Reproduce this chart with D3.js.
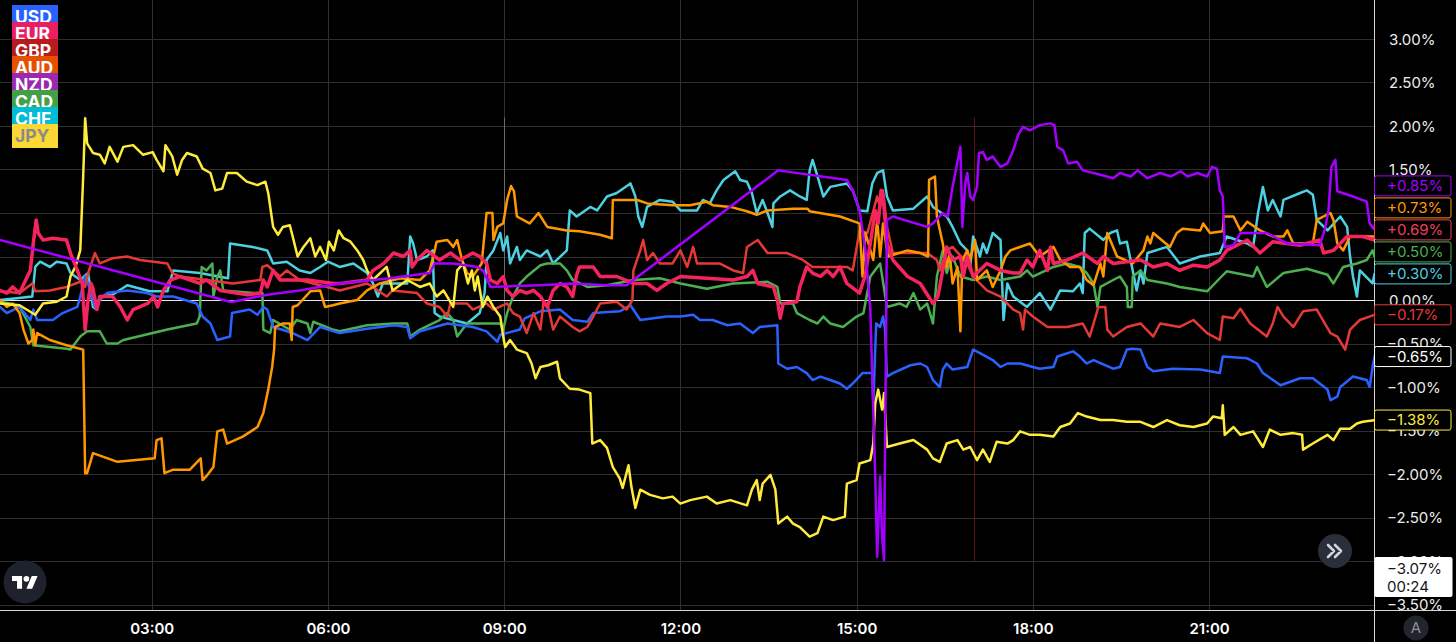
<!DOCTYPE html>
<html><head><meta charset="utf-8">
<script src="https://cdn.jsdelivr.net/npm/d3@7"></script>
<style>html,body{margin:0;padding:0;background:#000;overflow:hidden}svg{display:block}</style>
</head><body>
<svg id="chart" width="1456" height="642"></svg>
<script>
// ---- DATA (time in minutes since 00:00, value in %) ----
const categories = ["USD","EUR","GBP","AUD","NZD","CAD","CHF","JPY"];
const xTickValues = [180,360,540,720,900,1080,1260];
const yTickValues = [3,2.5,2,1.5,1,0.5,0,-0.5,-1,-1.5,-2,-2.5,-3,-3.5];
const sessionMarks = [540,1020];
const cursorValue = -3.07;
const cursorTime = "00:24";

const usd = [[25,-0.08],[32,-0.15],[45,-0.08],[56,-0.23],[59,-0.11],[63,-0.23],[79,-0.23],[89,-0.15],[104,-0.08],[107,0.04],[112,0.27],[115,0.19],[122,-0.08],[127,0.00],[134,0.08],[155,0.11],[175,0.08],[185,0.04],[202,0.04],[226,-0.04],[232,-0.19],[240,-0.27],[247,-0.46],[260,-0.42],[262,-0.15],[280,-0.11],[288,-0.17],[294,-0.08],[298,-0.11],[304,-0.31],[324,-0.38],[339,-0.46],[352,-0.31],[366,-0.36],[372,-0.38],[400,-0.33],[427,-0.29],[441,-0.31],[444,-0.44],[454,-0.36],[482,-0.27],[508,-0.31],[522,-0.36],[533,-0.48],[536,-0.40],[556,-0.34],[561,-0.21],[577,-0.13],[597,-0.11],[610,-0.23],[625,-0.25],[631,-0.15],[658,-0.13],[669,-0.06],[679,-0.23],[706,-0.19],[720,-0.19],[733,-0.17],[740,-0.23],[753,-0.23],[768,-0.29],[781,-0.27],[794,-0.38],[801,-0.31],[819,-0.29],[820,-0.73],[829,-0.79],[839,-0.77],[849,-0.84],[855,-0.92],[863,-0.88],[873,-0.92],[883,-0.96],[890,-1.02],[896,-0.96],[906,-0.84],[916,-0.84],[917,-1.19],[920,-0.27],[924,-0.31],[927,-0.19],[929,-0.34],[931,-0.88],[937,-0.84],[955,-0.75],[965,-0.73],[972,-0.77],[978,-0.92],[985,-1.00],[988,-0.80],[992,-0.73],[998,-0.80],[1013,-0.77],[1019,-0.57],[1026,-0.61],[1039,-0.69],[1047,-0.77],[1054,-0.73],[1067,-0.73],[1080,-0.77],[1087,-0.79],[1101,-0.77],[1105,-0.65],[1121,-0.59],[1128,-0.65],[1135,-0.73],[1142,-0.69],[1162,-0.79],[1169,-0.77],[1176,-0.57],[1182,-0.56],[1190,-0.57],[1197,-0.77],[1203,-0.82],[1223,-0.79],[1251,-0.80],[1271,-0.84],[1274,-0.65],[1299,-0.67],[1309,-0.73],[1315,-0.84],[1333,-0.98],[1353,-0.90],[1366,-0.90],[1381,-1.03],[1384,-1.15],[1391,-1.11],[1394,-1.00],[1407,-0.88],[1421,-0.92],[1424,-1.00],[1427,-0.77],[1429,-0.65]];

const eur = [[25,0.11],[32,0.08],[38,0.15],[45,0.08],[53,0.27],[56,0.34],[59,0.65],[62,0.92],[64,0.77],[69,0.69],[79,0.71],[93,0.69],[97,0.54],[104,0.34],[109,0.19],[112,-0.34],[115,0.00],[118,0.19],[120,0.13],[124,-0.11],[127,0.04],[140,0.04],[148,-0.08],[155,-0.23],[161,-0.11],[176,-0.04],[182,0.04],[186,-0.08],[192,0.11],[199,0.23],[209,0.27],[229,0.19],[236,0.23],[250,0.11],[278,0.06],[291,0.08],[294,0.23],[298,0.15],[304,0.34],[311,0.23],[324,0.23],[339,0.23],[366,0.19],[373,0.19],[400,0.23],[406,0.34],[417,0.42],[427,0.54],[437,0.50],[444,0.57],[446,0.38],[451,0.46],[461,0.57],[474,0.46],[485,0.54],[495,0.46],[508,0.54],[515,0.50],[522,0.42],[526,0.23],[533,0.19],[539,0.27],[543,0.11],[549,0.04],[556,0.11],[563,0.08],[570,0.11],[577,0.04],[584,-0.08],[590,0.11],[597,0.19],[604,0.15],[610,0.04],[614,0.29],[617,0.38],[631,0.38],[638,0.27],[655,0.27],[672,0.19],[686,0.19],[696,0.11],[706,0.19],[720,0.27],[747,0.25],[774,0.23],[788,0.27],[794,0.34],[799,0.19],[815,0.15],[819,0.00],[822,-0.21],[825,-0.04],[839,-0.02],[842,0.15],[849,0.38],[855,0.31],[863,0.27],[870,0.34],[876,0.27],[883,0.38],[890,0.19],[903,0.08],[909,0.29],[916,0.80],[919,1.03],[922,0.88],[925,1.26],[927,1.19],[931,0.65],[937,0.46],[952,0.27],[965,0.19],[978,-0.04],[983,0.04],[988,0.34],[992,0.61],[998,0.46],[1006,0.50],[1009,0.27],[1013,0.50],[1019,0.27],[1033,0.42],[1047,0.34],[1060,0.31],[1067,0.31],[1074,0.46],[1080,0.38],[1087,0.57],[1095,0.34],[1098,0.61],[1101,0.42],[1115,0.46],[1131,0.54],[1146,0.42],[1152,0.50],[1162,0.42],[1190,0.46],[1203,0.38],[1217,0.42],[1230,0.34],[1244,0.40],[1258,0.38],[1271,0.46],[1278,0.57],[1299,0.69],[1312,0.54],[1325,0.67],[1353,0.63],[1373,0.69],[1377,0.54],[1387,0.57],[1401,0.73],[1417,0.73],[1429,0.69]];

const gbp = [[25,0.10],[45,0.08],[58,0.19],[61,0.10],[76,0.11],[93,0.15],[107,0.21],[112,0.15],[115,0.31],[122,0.54],[127,0.42],[140,0.48],[155,0.50],[168,0.46],[196,0.42],[201,0.31],[209,0.27],[236,0.23],[263,0.19],[291,0.23],[293,0.38],[298,0.40],[311,0.27],[318,0.34],[331,0.23],[359,0.15],[372,0.11],[400,0.19],[406,0.15],[420,0.04],[426,0.11],[451,0.08],[461,-0.04],[474,-0.08],[482,-0.19],[485,-0.04],[502,-0.04],[508,-0.11],[522,-0.04],[529,-0.11],[543,-0.04],[549,-0.15],[556,-0.19],[563,-0.38],[570,-0.15],[577,-0.34],[580,-0.04],[585,-0.08],[590,-0.34],[597,-0.19],[610,-0.31],[617,-0.36],[625,-0.31],[631,-0.19],[638,-0.04],[655,-0.02],[665,-0.11],[671,0.00],[672,0.34],[679,0.57],[682,0.69],[686,0.46],[692,0.54],[699,0.42],[712,0.42],[720,0.57],[727,0.38],[733,0.61],[737,0.42],[760,0.42],[774,0.34],[784,0.31],[788,0.61],[799,0.69],[809,0.54],[829,0.54],[845,0.46],[855,0.38],[890,0.38],[896,0.34],[903,0.80],[911,0.77],[921,1.19],[924,1.07],[927,1.26],[931,0.84],[937,0.54],[972,0.54],[982,0.46],[985,0.34],[992,0.57],[998,0.61],[1013,0.42],[1019,0.27],[1033,0.11],[1047,0.04],[1060,-0.11],[1067,-0.15],[1070,-0.34],[1072,-0.11],[1080,-0.19],[1095,-0.31],[1115,-0.31],[1131,-0.27],[1138,-0.42],[1142,-0.27],[1147,-0.08],[1154,-0.08],[1156,-0.34],[1162,-0.42],[1176,-0.31],[1190,-0.27],[1203,-0.42],[1210,-0.27],[1230,-0.31],[1244,-0.23],[1258,-0.38],[1271,-0.46],[1274,-0.19],[1285,-0.21],[1292,-0.10],[1302,-0.27],[1319,-0.42],[1325,-0.27],[1330,-0.08],[1336,-0.19],[1346,-0.31],[1356,-0.13],[1370,-0.11],[1384,-0.38],[1391,-0.42],[1399,-0.57],[1404,-0.34],[1414,-0.23],[1429,-0.17]];

const aud = [[25,0.00],[32,-0.08],[38,-0.04],[45,-0.15],[49,-0.34],[54,-0.50],[58,-0.46],[59,-0.34],[61,-0.52],[63,-0.38],[76,-0.46],[93,-0.52],[110,-0.57],[112,-1.99],[114,-1.99],[120,-1.76],[145,-1.86],[183,-1.82],[185,-1.61],[190,-1.59],[193,-1.99],[202,-1.95],[219,-1.95],[230,-1.82],[232,-2.07],[237,-2.01],[243,-1.92],[247,-1.51],[253,-1.49],[257,-1.65],[273,-1.57],[288,-1.46],[294,-1.30],[299,-1.03],[303,-0.77],[305,-0.57],[306,-0.31],[314,-0.27],[321,-0.27],[323,-0.46],[324,-0.08],[329,-0.06],[342,0.10],[352,0.11],[357,-0.08],[365,-0.06],[372,-0.04],[390,0.00],[400,0.11],[413,0.19],[434,0.25],[454,0.23],[464,0.34],[469,0.57],[471,0.67],[482,0.69],[488,0.61],[492,0.69],[497,0.46],[502,0.31],[508,0.27],[517,0.42],[522,1.00],[528,1.00],[529,0.69],[533,0.84],[539,0.88],[543,1.15],[547,1.31],[550,1.25],[553,0.96],[566,0.88],[575,1.00],[584,0.84],[604,0.80],[617,0.79],[638,0.75],[650,0.71],[651,1.15],[676,1.15],[686,1.11],[712,1.09],[730,1.09],[747,1.13],[753,1.09],[771,1.07],[788,1.02],[798,0.98],[809,1.03],[835,1.05],[850,1.05],[852,1.02],[883,0.96],[903,0.88],[906,0.27],[909,0.77],[917,0.46],[921,0.92],[924,0.50],[927,0.88],[932,0.50],[952,0.57],[965,0.54],[973,0.50],[974,1.38],[980,1.42],[982,0.96],[988,0.65],[992,0.38],[995,0.54],[998,0.19],[1003,0.38],[1006,-0.36],[1008,0.46],[1013,0.57],[1016,0.46],[1021,0.69],[1023,0.23],[1033,0.34],[1039,0.15],[1047,0.34],[1052,0.50],[1057,0.57],[1077,0.65],[1087,0.50],[1101,0.61],[1108,0.46],[1118,0.38],[1128,0.38],[1135,0.23],[1142,0.17],[1149,0.42],[1152,0.27],[1156,0.77],[1166,0.50],[1182,0.42],[1193,0.57],[1197,0.73],[1200,0.65],[1203,0.77],[1220,0.61],[1227,0.77],[1233,0.82],[1251,0.80],[1254,0.88],[1261,0.77],[1274,0.79],[1275,0.96],[1285,0.96],[1292,0.80],[1299,0.90],[1312,0.80],[1325,0.73],[1336,0.73],[1340,0.80],[1346,0.65],[1366,0.65],[1370,0.92],[1384,1.00],[1387,0.92],[1391,0.65],[1397,0.57],[1404,0.73],[1429,0.73]];

const nzd = [[25,0.69],[260,-0.02],[263,-0.02],[298,0.06],[331,0.11],[372,0.19],[423,0.25],[464,0.31],[469,0.42],[488,0.42],[513,0.38],[519,0.33],[526,0.15],[577,0.17],[610,0.19],[645,0.17],[665,0.17],[672,0.23],[820,1.49],[890,1.38],[896,1.26],[903,1.03],[909,0.57],[914,-0.11],[919,-2.03],[921,-2.95],[924,-2.03],[926,-2.72],[928,-2.99],[930,-0.50],[931,0.92],[937,0.96],[972,0.84],[978,0.88],[988,1.00],[993,0.96],[998,1.30],[1006,1.76],[1008,0.84],[1011,1.34],[1013,1.46],[1016,1.19],[1019,1.15],[1023,1.30],[1025,1.69],[1029,1.70],[1033,1.61],[1039,1.65],[1047,1.53],[1054,1.57],[1060,1.72],[1065,1.90],[1070,1.99],[1077,1.95],[1087,2.01],[1098,2.03],[1102,2.01],[1105,1.76],[1111,1.72],[1116,1.57],[1125,1.59],[1131,1.49],[1149,1.44],[1162,1.40],[1169,1.46],[1180,1.42],[1187,1.49],[1197,1.40],[1210,1.46],[1221,1.42],[1231,1.48],[1238,1.42],[1248,1.46],[1258,1.42],[1263,1.53],[1268,1.51],[1271,1.26],[1274,1.19],[1276,0.61],[1285,0.63],[1292,0.77],[1319,0.77],[1340,0.65],[1373,0.63],[1378,0.80],[1382,1.03],[1385,1.53],[1389,1.61],[1391,1.25],[1407,1.19],[1421,1.13],[1424,0.88],[1428,0.82],[1429,0.85]];

const cad = [[25,-0.02],[35,-0.04],[45,-0.08],[56,-0.31],[59,-0.52],[93,-0.56],[97,-0.57],[107,-0.42],[114,-0.36],[127,-0.36],[134,-0.50],[145,-0.50],[151,-0.46],[196,-0.34],[226,-0.27],[229,-0.19],[231,0.38],[236,0.34],[242,0.42],[243,0.04],[247,0.27],[250,0.34],[253,0.11],[284,0.08],[293,0.08],[294,-0.34],[301,-0.38],[304,-0.23],[321,-0.34],[328,-0.23],[339,-0.27],[342,-0.38],[345,-0.25],[365,-0.34],[372,-0.36],[400,-0.29],[427,-0.27],[441,-0.27],[444,-0.42],[454,-0.34],[474,-0.23],[482,-0.15],[488,-0.23],[492,-0.42],[502,-0.27],[522,-0.27],[536,-0.27],[539,-0.34],[543,-0.15],[549,0.04],[556,0.19],[563,0.27],[577,0.40],[584,0.42],[597,0.42],[604,0.34],[610,0.23],[625,0.15],[645,0.17],[672,0.23],[699,0.25],[720,0.19],[747,0.13],[774,0.19],[809,0.21],[819,0.15],[822,-0.04],[835,-0.04],[839,-0.15],[852,-0.23],[860,-0.27],[866,-0.19],[873,-0.27],[886,-0.31],[900,-0.19],[907,-0.15],[914,0.27],[924,0.42],[931,-0.08],[944,-0.04],[951,-0.08],[958,0.08],[965,-0.11],[972,-0.04],[978,-0.27],[982,0.27],[988,0.57],[992,0.31],[998,0.50],[1006,0.27],[1019,0.23],[1033,0.27],[1047,0.23],[1067,0.27],[1074,0.34],[1080,0.27],[1101,0.38],[1115,0.42],[1128,0.38],[1135,0.31],[1142,0.19],[1146,-0.08],[1149,0.15],[1162,0.23],[1169,0.27],[1176,0.15],[1177,-0.08],[1181,-0.08],[1182,0.27],[1190,0.34],[1197,0.23],[1217,0.19],[1230,0.15],[1258,0.10],[1271,0.25],[1278,0.33],[1305,0.27],[1309,0.38],[1319,0.15],[1336,0.31],[1360,0.36],[1381,0.29],[1387,0.19],[1397,0.38],[1411,0.42],[1421,0.46],[1427,0.57],[1429,0.50]];

const chf = [[25,0.00],[42,0.02],[58,0.04],[61,0.38],[66,0.44],[76,0.38],[83,0.44],[93,0.42],[97,0.31],[107,0.23],[115,0.31],[120,-0.08],[124,-0.11],[127,0.04],[140,0.06],[155,0.17],[178,0.10],[196,0.10],[202,0.34],[229,0.31],[258,0.25],[260,0.65],[283,0.61],[298,0.57],[304,0.42],[318,0.44],[331,0.34],[342,0.31],[352,0.38],[360,0.44],[372,0.38],[386,0.42],[400,0.31],[406,0.19],[411,0.04],[416,0.19],[441,0.19],[444,0.73],[447,0.65],[451,0.46],[461,0.50],[467,0.57],[469,-0.15],[474,-0.19],[488,-0.23],[502,-0.27],[515,-0.15],[520,0.08],[522,0.46],[529,0.57],[536,0.77],[539,0.57],[543,0.73],[546,0.42],[553,0.61],[556,0.46],[563,0.57],[577,0.50],[584,0.57],[590,0.42],[604,0.57],[607,1.03],[614,0.96],[628,1.07],[635,1.03],[645,1.19],[655,1.23],[669,1.34],[674,1.19],[677,0.96],[681,0.84],[686,1.07],[699,1.15],[712,1.13],[720,1.03],[737,1.03],[743,1.15],[750,1.11],[757,1.26],[764,1.38],[776,1.48],[781,1.38],[788,1.36],[793,1.23],[798,1.00],[804,1.15],[809,1.00],[814,0.84],[815,1.11],[822,1.19],[832,1.26],[842,1.19],[849,1.15],[852,1.49],[855,1.61],[859,1.46],[866,1.19],[873,1.30],[890,1.34],[896,1.26],[903,1.03],[911,1.02],[916,1.34],[921,1.46],[927,1.49],[931,1.19],[937,1.03],[958,1.05],[972,1.19],[978,1.07],[992,0.96],[998,0.84],[1006,0.65],[1013,0.57],[1016,0.38],[1019,0.73],[1026,0.50],[1029,0.65],[1033,0.54],[1039,0.77],[1047,0.69],[1050,-0.23],[1054,0.19],[1060,0.04],[1074,-0.08],[1087,0.08],[1098,-0.11],[1108,0.11],[1121,0.10],[1128,0.19],[1131,0.08],[1133,0.77],[1138,0.82],[1152,0.69],[1159,0.77],[1166,0.80],[1169,0.65],[1176,0.67],[1182,0.34],[1186,0.11],[1190,0.34],[1193,0.19],[1197,0.54],[1217,0.61],[1230,0.42],[1251,0.50],[1271,0.54],[1278,0.73],[1299,0.65],[1305,0.61],[1310,1.00],[1315,1.30],[1320,1.03],[1325,1.15],[1333,0.96],[1336,1.15],[1353,1.23],[1360,1.26],[1366,1.21],[1370,0.92],[1381,0.80],[1394,0.96],[1401,0.84],[1404,0.50],[1407,0.27],[1411,0.04],[1414,0.34],[1427,0.19],[1429,0.30]];

const jpy = [[25,-0.04],[45,-0.06],[61,-0.17],[69,-0.04],[83,-0.02],[93,0.04],[97,0.27],[102,0.38],[107,0.57],[110,1.42],[112,2.09],[114,1.80],[120,1.69],[127,1.67],[132,1.57],[137,1.76],[145,1.59],[151,1.76],[161,1.78],[171,1.67],[181,1.70],[185,1.61],[192,1.48],[194,1.78],[201,1.65],[206,1.44],[211,1.61],[216,1.69],[226,1.65],[232,1.51],[240,1.46],[245,1.26],[252,1.28],[257,1.46],[267,1.46],[277,1.36],[288,1.32],[296,1.36],[299,1.23],[304,0.84],[309,0.75],[314,0.84],[321,0.86],[324,0.73],[329,0.50],[335,0.61],[342,0.71],[347,0.50],[352,0.61],[358,0.46],[361,0.67],[366,0.57],[371,0.80],[376,0.71],[383,0.67],[390,0.57],[396,0.46],[400,0.34],[406,0.23],[420,0.38],[426,0.11],[441,0.23],[454,0.15],[464,0.19],[471,0.04],[478,0.11],[488,-0.08],[492,0.34],[498,0.42],[503,0.19],[507,0.34],[510,0.11],[513,0.27],[518,-0.08],[523,0.04],[529,-0.08],[536,-0.19],[539,-0.42],[541,-0.54],[546,-0.46],[553,-0.57],[563,-0.61],[568,-0.73],[572,-0.90],[577,-0.77],[585,-0.75],[594,-0.71],[597,-0.90],[607,-1.02],[617,-1.03],[628,-1.07],[630,-1.65],[638,-1.61],[645,-1.70],[651,-1.92],[658,-2.05],[661,-2.16],[667,-1.90],[670,-2.15],[674,-2.39],[679,-2.18],[689,-2.24],[702,-2.28],[712,-2.26],[720,-2.34],[730,-2.30],[747,-2.26],[757,-2.34],[771,-2.30],[788,-2.36],[793,-2.18],[798,-2.07],[801,-2.30],[804,-2.11],[812,-2.01],[817,-2.18],[820,-2.57],[829,-2.49],[835,-2.57],[842,-2.61],[852,-2.72],[860,-2.68],[866,-2.49],[876,-2.53],[888,-2.49],[890,-2.11],[900,-2.07],[903,-1.88],[914,-1.84],[917,-1.65],[919,-1.19],[922,-1.03],[926,-1.26],[928,-1.07],[931,-1.69],[944,-1.65],[958,-1.61],[972,-1.72],[978,-1.82],[985,-1.86],[992,-1.65],[1003,-1.61],[1009,-1.72],[1016,-1.69],[1023,-1.84],[1029,-1.72],[1036,-1.86],[1043,-1.63],[1054,-1.65],[1060,-1.61],[1067,-1.51],[1077,-1.55],[1087,-1.55],[1101,-1.57],[1108,-1.46],[1118,-1.42],[1126,-1.30],[1135,-1.34],[1149,-1.38],[1162,-1.38],[1176,-1.40],[1190,-1.40],[1203,-1.46],[1217,-1.38],[1230,-1.44],[1244,-1.46],[1258,-1.42],[1264,-1.34],[1273,-1.36],[1274,-1.21],[1276,-1.55],[1285,-1.46],[1292,-1.55],[1305,-1.51],[1315,-1.69],[1322,-1.49],[1333,-1.55],[1346,-1.53],[1355,-1.55],[1356,-1.72],[1366,-1.65],[1381,-1.55],[1387,-1.61],[1394,-1.48],[1404,-1.48],[1411,-1.42],[1417,-1.40],[1429,-1.38]];

// ---- STYLES ----
const seriesData = {USD: usd, EUR: eur, GBP: gbp, AUD: aud, NZD: nzd, CAD: cad, CHF: chf, JPY: jpy};
const lineColor = {USD:"#2962ff", EUR:"#f5245e", GBP:"#e53935", AUD:"#ff9800", NZD:"#a400ff", CAD:"#4caf50", CHF:"#4dd0e1", JPY:"#ffeb3b"};
const boxColor = {USD:"#2962ff", EUR:"#e91e63", GBP:"#b71c1c", AUD:"#e65100", NZD:"#9c27b0", CAD:"#43a047", CHF:"#00bcd4", JPY:"#fdd835"};
const badgeColor = {USD:"#ffffff", EUR:"#f23d5c", GBP:"#e53935", AUD:"#ff9800", NZD:"#a400ff", CAD:"#4caf50", CHF:"#4dd0e1", JPY:"#ffeb3b"};
const drawOrder = ["CHF","CAD","USD","GBP","AUD","JPY","EUR","NZD"];
const FONT = "Inter, 'Noto Sans', sans-serif";

const W = 1456, H = 642;
const plotRight = 1374, plotBottom = 610;
const svg = d3.select("#chart");
svg.append("rect").attr("width", W).attr("height", H).attr("fill", "#000");

const x = d3.scaleLinear().domain([0, 1440]).range([-24.5, 1385.3]);
const y = d3.scaleLinear().domain([-3.5, 3]).range([604.5, 39]);

const defs = svg.append("defs");
defs.append("clipPath").attr("id","plotClip").append("rect")
  .attr("x",0).attr("y",0).attr("width",plotRight).attr("height",plotBottom);
defs.append("clipPath").attr("id","axisClip").append("rect")
  .attr("x",plotRight).attr("y",0).attr("width",W-plotRight).attr("height",plotBottom);

// grid
const grid = svg.append("g").attr("clip-path","url(#plotClip)");
grid.selectAll("line.h").data(yTickValues.filter(v => v !== 0)).join("line")
  .attr("x1",0).attr("x2",plotRight)
  .attr("y1",d => Math.round(y(d))+0.5).attr("y2",d => Math.round(y(d))+0.5)
  .attr("stroke","#2e2e2e").attr("stroke-width",1);
grid.selectAll("line.v").data(xTickValues).join("line")
  .attr("y1",0).attr("y2",plotBottom)
  .attr("x1",d => Math.round(x(d))+0.5).attr("x2",d => Math.round(x(d))+0.5)
  .attr("stroke","#2e2e2e").attr("stroke-width",1);
grid.selectAll("line.s").data(sessionMarks).join("line")
  .attr("y1",y(2.1)).attr("y2",y(-3.0))
  .attr("x1",d => Math.round(x(d))+0.5).attr("x2",d => Math.round(x(d))+0.5)
  .attr("stroke",(d,i) => i === 0 ? "#6a6a6a" : "#5c1313").attr("stroke-width",1);
grid.append("line").attr("x1",0).attr("x2",plotRight)
  .attr("y1",Math.round(y(0))+0.5).attr("y2",Math.round(y(0))+0.5)
  .attr("stroke","#e8e8e8").attr("stroke-width",1);

// lines
const lineGen = d3.line().x(d => x(d[0])).y(d => y(d[1])).curve(d3.curveLinear);
const lines = svg.append("g").attr("clip-path","url(#plotClip)");
drawOrder.forEach(k => {
  lines.append("path").datum(seriesData[k])
    .attr("d", lineGen).attr("fill","none")
    .attr("stroke", lineColor[k])
    .attr("stroke-width", k === "EUR" ? 3.5 : 2.5)
    .attr("stroke-linejoin","round").attr("stroke-linecap","round");
});

// legend
const legend = svg.append("g");
categories.forEach((k, i) => {
  const top = 5 + i * 17;
  const cid = "lg" + i;
  const hgt = i === categories.length - 1 ? 24 : 17;
  defs.append("clipPath").attr("id", cid).append("rect")
    .attr("x", 12).attr("y", top).attr("width", 46).attr("height", hgt);
  const g = legend.append("g").attr("clip-path", `url(#${cid})`);
  g.append("rect").attr("x",12).attr("y",top).attr("width",46).attr("height",24).attr("fill",boxColor[k]);
  g.append("text").attr("x",15).attr("y",top+17.5).text(k)
    .attr("font-family",FONT).attr("font-size",17.5).attr("font-weight",700)
    .attr("fill", k === "JPY" ? "#8a8a8a" : "#ffffff");
});

// axes lines
svg.append("line").attr("x1",0).attr("x2",W).attr("y1",plotBottom+0.5).attr("y2",plotBottom+0.5)
  .attr("stroke","#d6d6d6").attr("stroke-width",1);
svg.append("line").attr("x1",plotRight+0.5).attr("x2",plotRight+0.5).attr("y1",0).attr("y2",H)
  .attr("stroke","#d6d6d6").attr("stroke-width",1);

// bottom axis
const xAxis = d3.axisBottom(x).tickValues(xTickValues).tickSize(0).tickPadding(0)
  .tickFormat(m => d3.format("02d")(Math.floor(m/60)) + ":" + d3.format("02d")(m % 60));
const gx = svg.append("g").attr("transform",`translate(0,${plotBottom})`).call(xAxis);
gx.select(".domain").remove();
gx.selectAll("text").attr("font-family",FONT).attr("font-size",15).attr("font-weight",600)
  .attr("fill","#ffffff").attr("dy",null).attr("y",24);

// badges for last values (stacked to avoid overlap)
const lastVals = categories.map(k => ({k, v: seriesData[k][seriesData[k].length-1][1]}))
  .sort((a,b) => b.v - a.v);
for (let i = lastVals.length - 1; i >= 0; i--) {
  const yy = y(lastVals[i].v);
  lastVals[i].pos = (i === lastVals.length - 1) ? yy : Math.min(yy, lastVals[i+1].pos - 22);
}
// a tick label whose glyphs sit entirely under a badge is not visible
const coveredByBadge = t => lastVals.some(d => y(t) - 4.5 >= d.pos - 10 && y(t) + 4.5 <= d.pos + 10);

// right axis
const pctFmt = d3.format(".2f");
const yAxis = d3.axisRight(y).tickValues(yTickValues.filter(t => !coveredByBadge(t))).tickSize(0).tickPadding(0)
  .tickFormat(v => pctFmt(v) + "%");
const gy = svg.append("g").attr("clip-path","url(#axisClip)").append("g")
  .attr("transform",`translate(${plotRight},0)`).call(yAxis);
gy.select(".domain").remove();
gy.selectAll("text").attr("font-family",FONT).attr("font-size",15)
  .attr("fill","#ececec").attr("x",v => v < 0 ? 13 : 15).attr("dy","0.35em");

const signFmt = d3.format("+.2f");
const badges = svg.append("g");
lastVals.forEach(d => {
  badges.append("rect").attr("x",plotRight+0.5).attr("y",d.pos-10).attr("width",76.5).attr("height",20)
    .attr("rx",2).attr("fill","#000").attr("stroke",badgeColor[d.k]).attr("stroke-width",1);
  badges.append("text").attr("x",plotRight+13).attr("y",d.pos).attr("dy","0.35em")
    .text(signFmt(d.v) + "%").attr("font-family",FONT).attr("font-size",15).attr("fill",badgeColor[d.k]);
});

// crosshair label
const cy = y(cursorValue);
svg.append("rect").attr("x",plotRight+0.5).attr("y",cy-10).attr("width",78).attr("height",40)
  .attr("rx",2).attr("fill","#ffffff");
svg.append("text").attr("x",plotRight+13).attr("y",cy+6.5).text(pctFmt(cursorValue)+"%")
  .attr("font-family",FONT).attr("font-size",15).attr("fill","#131722");
svg.append("text").attr("x",plotRight+13).attr("y",cy+25).text(cursorTime)
  .attr("font-family",FONT).attr("font-size",15).attr("fill","#131722");

// scroll button
const sb = svg.append("g").attr("transform","translate(1335,551)");
sb.append("circle").attr("r",17).attr("fill","#2a2e39");
sb.append("path").attr("d","M-7,-6 L-1,0 L-7,6 M0,-6 L6,0 L0,6").attr("fill","none")
  .attr("stroke","#d1d4dc").attr("stroke-width",2.6).attr("stroke-linecap","round").attr("stroke-linejoin","round");

// auto-scale button
const ab = svg.append("g").attr("transform","translate(1416,628)");
ab.append("circle").attr("r",12.5).attr("fill","#22252e");
ab.append("text").attr("text-anchor","middle").attr("dy","0.36em").text("A")
  .attr("font-family",FONT).attr("font-size",15).attr("fill","#8d9099");

// TV logo
const tv = svg.append("g").attr("transform","translate(25,582)");
tv.append("circle").attr("r",21.5).attr("fill","#1e222d");
const tvl = tv.append("g").attr("transform","translate(-13,-9) scale(0.72)").attr("fill","#ffffff");
tvl.append("path").attr("d","M14 22H7V11H0V4h14v18zM28 22h-8l7.5-18h8L28 22z");
tvl.append("circle").attr("cx",20).attr("cy",8).attr("r",4);
</script>
</body></html>
